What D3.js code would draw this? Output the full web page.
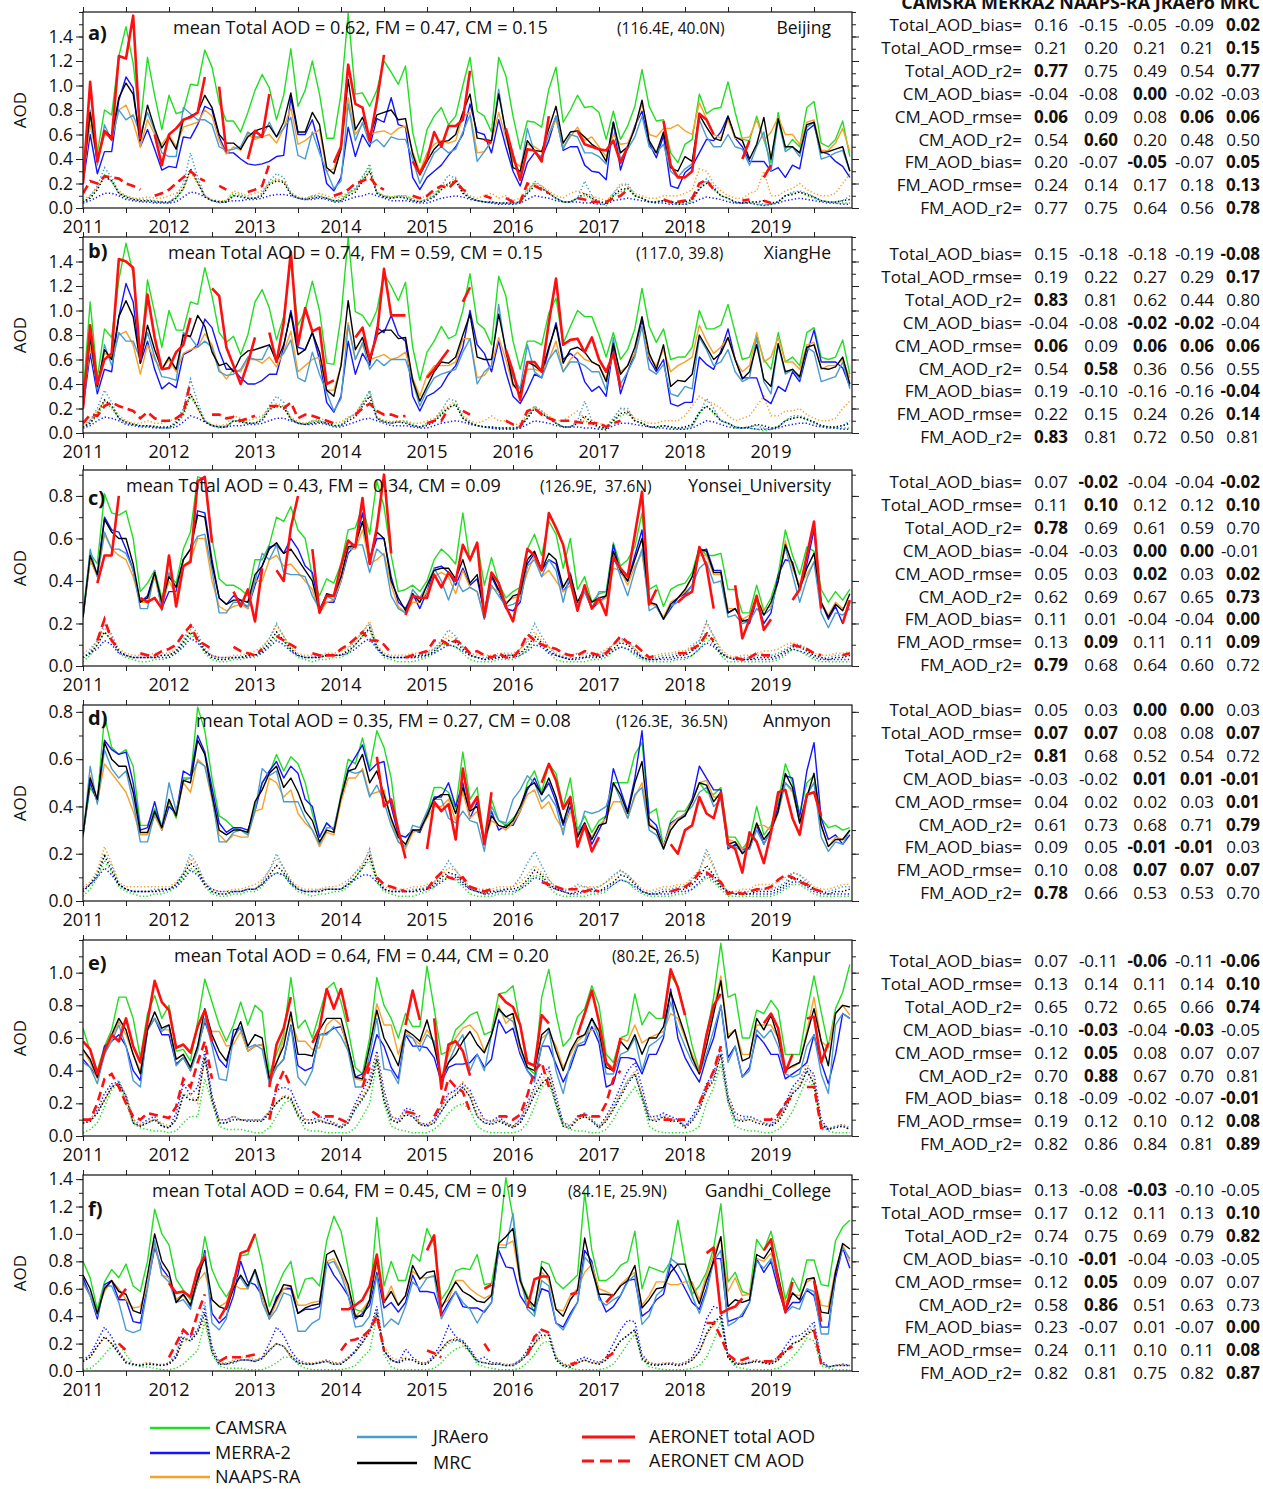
<!DOCTYPE html>
<html>
<head>
<meta charset="utf-8">
<script src="https://cdn.jsdelivr.net/npm/d3@7"></script>
<style>
  body { margin: 0; background: #fff; }
  text { font-family: "Open Sans", sans-serif; fill: #111; }
</style>
</head>
<body>
<script>
// monthly means Jan 2011 .. Dec 2019 (108 months), AOD at 550 nm
const _ = null

// ---- a) Beijing ----
const aTotCams = [
.2,.75,.45,.8,.76,1.24,1.48,1.18,.68,1.23,.92,.64,
.92,.77,.79,1.01,1.0,1.29,1.15,.86,.71,.71,.62,.78,
.96,1.09,.98,.72,.92,1.3,.83,.96,1.2,.93,.57,.57,
.93,1.59,.93,.94,.83,.96,1.2,1.11,1.01,1.16,.62,.37,
.64,.75,.82,.68,.75,1.0,1.23,.79,.75,.62,1.23,1.08,
.75,.48,.71,.7,.66,.97,1.15,.7,.8,.92,.82,.83,
.78,.56,.79,.56,.67,.83,1.13,.83,.71,.72,.45,.37,
.52,.56,.93,.77,.81,.82,1.03,.78,.56,.55,.75,.56,
.37,.78,.48,.56,.5,.82,.87,.53,.5,.56,.71,.42]
const aTotMerra = [
.2,.6,.28,.46,.46,.88,1.07,.98,.5,.64,.48,.31,
.34,.33,.58,.57,.68,.83,.8,.58,.45,.45,.4,.36,
.35,.36,.38,.42,.43,.9,.6,.6,.72,.5,.2,.14,
.25,.66,.42,.6,.5,.73,.7,.9,.68,.66,.25,.15,
.25,.3,.35,.43,.5,.6,.85,.62,.6,.45,.72,.5,
.3,.18,.37,.45,.41,.55,.75,.47,.5,.5,.35,.3,
.29,.23,.7,.31,.5,.67,.79,.53,.41,.59,.18,.16,
.29,.34,.45,.56,.55,.62,.75,.57,.5,.38,.38,.38,
.3,.33,.25,.35,.32,.63,.68,.46,.44,.38,.34,.25]
const aTotNaaps = [
.25,.68,.4,.6,.58,.8,.84,.7,.5,.72,.6,.52,
.6,.5,.66,.68,.7,.8,.75,.55,.44,.5,.47,.6,
.56,.58,.6,.53,.65,.82,.52,.55,.6,.64,.3,.32,
.5,.9,.6,.68,.6,.62,.63,.6,.65,.67,.46,.3,
.45,.52,.55,.53,.55,.75,.78,.45,.46,.54,.78,.57,
.38,.34,.52,.5,.46,.6,.72,.5,.58,.66,.55,.58,
.5,.42,.6,.52,.53,.65,.85,.6,.58,.65,.65,.68,
.63,.6,.86,.73,.6,.57,.72,.57,.57,.58,.72,.55,
.62,.74,.6,.6,.52,.7,.72,.47,.47,.53,.65,.46]
const aTotJra = [
.2,.8,.35,.68,.55,.8,.72,.76,.6,.78,.63,.45,
.42,.42,.82,.77,.72,.72,.68,.5,.47,.48,.5,.62,
.58,.58,.7,.58,.65,.74,.43,.4,.62,.45,.3,.16,
.22,.85,.55,.7,.52,.56,.5,.58,.56,.56,.4,.2,
.33,.45,.5,.45,.48,.62,.76,.38,.46,.55,.97,.6,
.4,.28,.65,.45,.42,.6,.75,.48,.6,.58,.45,.45,
.42,.36,.7,.4,.48,.58,.75,.5,.45,.52,.3,.25,
.32,.36,.72,.58,.5,.5,.6,.5,.48,.35,.5,.62,
.3,.72,.46,.5,.42,.66,.7,.4,.42,.45,.47,.3]
const aTotMrc = [
.25,.78,.38,.63,.58,.9,1.02,.93,.55,.84,.65,.49,
.58,.48,.72,.75,.78,.92,.82,.6,.53,.53,.48,.58,
.63,.65,.67,.58,.7,.94,.62,.62,.78,.68,.33,.28,
.48,1.05,.64,.74,.58,.76,.78,.8,.72,.73,.44,.27,
.38,.48,.54,.55,.6,.78,.93,.57,.56,.55,.93,.62,
.33,.3,.55,.47,.46,.65,.83,.53,.62,.63,.58,.52,
.48,.38,.7,.45,.5,.65,.88,.55,.45,.62,.33,.3,
.42,.38,.76,.66,.57,.55,.75,.58,.55,.4,.52,.74,
.4,.73,.5,.5,.45,.68,.7,.45,.46,.48,.5,.3]
const aCmCams = [
.05,.08,.15,.27,.22,.12,.1,.08,.07,.07,.06,.05,
.04,.08,.15,.3,.2,.1,.06,.05,.06,.12,.11,.08,
.08,.12,.2,.24,.22,.12,.08,.07,.1,.1,.08,.06,
.07,.12,.15,.26,.33,.13,.1,.09,.1,.1,.07,.05,
.08,.1,.17,.18,.22,.12,.08,.06,.05,.04,.04,.04,
.03,.04,.14,.2,.16,.12,.08,.05,.05,.08,.1,.08,
.04,.02,.1,.13,.16,.1,.08,.05,.05,.06,.04,.03,
.03,.05,.15,.22,.15,.1,.08,.04,.04,.04,.03,.02,
.03,.05,.1,.12,.13,.1,.08,.06,.05,.04,.04,.04]
const aCmMerra = [
.04,.06,.09,.12,.12,.1,.07,.06,.05,.05,.04,.04,
.04,.05,.09,.13,.12,.09,.06,.05,.05,.06,.06,.07,
.07,.08,.1,.11,.11,.1,.08,.07,.07,.08,.07,.05,
.05,.07,.09,.1,.12,.1,.08,.06,.06,.06,.05,.04,
.04,.06,.08,.09,.1,.09,.07,.06,.05,.04,.03,.03,
.03,.04,.07,.1,.09,.08,.06,.05,.05,.05,.04,.04,
.03,.03,.06,.07,.08,.07,.06,.05,.04,.04,.03,.03,
.03,.04,.07,.09,.08,.07,.05,.04,.04,.04,.03,.02,
.03,.04,.06,.07,.08,.07,.06,.05,.04,.04,.03,.03]
const aCmNaaps = [
.07,.1,.17,.25,.22,.14,.1,.08,.08,.09,.08,.08,
.1,.12,.16,.3,.2,.1,.07,.06,.06,.14,.12,.1,
.12,.14,.2,.23,.22,.13,.09,.08,.1,.12,.1,.08,
.09,.13,.15,.22,.3,.13,.1,.09,.1,.1,.08,.08,
.1,.12,.18,.2,.25,.14,.1,.08,.1,.12,.08,.1,
.06,.08,.15,.2,.18,.14,.1,.08,.12,.14,.12,.1,
.08,.06,.12,.2,.18,.12,.1,.08,.08,.1,.1,.1,
.12,.15,.32,.3,.2,.14,.1,.08,.08,.12,.14,.3,
.1,.1,.14,.16,.2,.15,.12,.1,.1,.12,.2,.28]
const aCmJra = [
.04,.1,.18,.33,.25,.12,.08,.07,.06,.06,.06,.04,
.04,.1,.2,.45,.25,.1,.06,.04,.05,.1,.1,.08,
.08,.12,.22,.28,.25,.12,.08,.07,.09,.1,.08,.05,
.06,.12,.16,.24,.36,.12,.09,.08,.09,.09,.06,.05,
.07,.1,.18,.27,.24,.13,.09,.06,.05,.05,.04,.04,
.04,.05,.12,.22,.18,.12,.08,.05,.05,.08,.22,.1,
.05,.04,.12,.18,.2,.1,.08,.05,.05,.06,.05,.04,
.04,.06,.16,.24,.18,.1,.08,.05,.04,.05,.05,.03,
.03,.05,.1,.13,.14,.12,.09,.06,.05,.05,.06,.1]
const aCmMrc = [
.05,.08,.15,.26,.22,.12,.09,.07,.06,.06,.05,.05,
.05,.08,.16,.32,.21,.09,.06,.05,.05,.1,.09,.08,
.08,.1,.19,.22,.21,.11,.08,.07,.08,.09,.08,.06,
.06,.1,.13,.22,.3,.12,.09,.08,.09,.08,.06,.05,
.06,.09,.15,.2,.22,.12,.08,.06,.05,.05,.04,.04,
.04,.05,.12,.18,.16,.12,.08,.05,.05,.08,.12,.08,
.05,.04,.1,.15,.16,.1,.08,.05,.05,.06,.05,.04,
.05,.07,.16,.2,.16,.1,.08,.05,.04,.05,.05,.06,
.04,.05,.1,.11,.13,.11,.09,.06,.05,.05,.06,.07]
const aAeroTot = [
.2,1.03,.38,.63,.56,1.24,1.22,1.57,.56,_,.6,.35,
.6,.65,.72,.74,.78,1.07,_,.99,.46,_,_,.4,
.63,.58,.93,_,_,_,_,_,_,_,_,.37,
.5,1.17,.85,.82,.55,.87,1.25,_,_,_,.38,.28,
.4,.62,.5,.67,.67,.72,1.12,_,.56,.53,_,.65,
.43,.23,.48,.47,.38,.75,_,_,_,.63,.52,.5,
.48,.47,.55,.37,.5,_,_,_,_,.71,.35,.25,
.25,.3,.77,.72,.6,_,_,_,.4,.55,_,.25,
.35,_,_,_,_,_,_,_,_,_,_,_]
const aAeroCm = [
.12,.22,.2,.26,.25,.24,.2,.18,.15,_,.1,.12,
.15,.2,.25,.3,.25,.22,_,.18,.15,_,_,.13,
.15,.18,.36,_,_,_,_,_,_,_,_,.1,
.12,.15,.2,.22,.25,.18,.15,_,_,_,.1,.08,
.1,.15,.18,.16,.22,.15,.12,_,.1,.08,_,.08,
.05,.05,.2,.18,.15,.12,_,_,_,.08,.07,.05,
.05,.05,.08,.1,.15,_,_,_,_,.07,.05,.05,
.06,.08,.2,.23,.15,_,_,_,.06,.07,_,.06,
.04,_,_,_,_,_,_,_,_,_,_,_]

// ---- b) XiangHe ----
const bTotCams = [
.3,1.07,.45,.85,.78,1.25,1.55,1.3,.6,1.25,.98,.7,
1.0,.84,.84,1.07,1.05,1.35,1.12,.82,.74,.79,.64,.8,
1.07,1.17,1.02,.76,.95,1.4,.88,1.0,1.24,1.0,.57,.56,
.95,1.6,.99,.96,.87,1.0,1.3,1.2,1.08,1.23,.7,.43,
.66,.75,.87,.77,.8,1.0,1.3,.9,.85,.72,1.28,1.12,
.75,.52,.75,.75,.72,.98,1.1,.73,.87,1.0,.95,.95,
.8,.62,.82,.6,.68,.85,1.18,.87,.74,.85,.6,.62,
.62,.7,1.0,.85,.85,.88,1.05,.82,.6,.62,.8,.6,
.52,.82,.58,.62,.55,.82,.86,.62,.6,.62,.76,.48]
const bTotMerra = [
.2,.65,.32,.52,.5,.95,1.22,1.07,.57,.75,.52,.36,
.41,.37,.64,.67,.72,.93,.86,.67,.52,.52,.45,.4,
.4,.43,.48,.48,.7,1.0,.7,.68,.82,.6,.25,.17,
.3,.75,.48,.65,.55,.86,.82,.96,.8,.75,.3,.18,
.3,.33,.38,.48,.55,.7,1.0,.72,.65,.5,.75,.5,
.3,.24,.35,.48,.45,.68,.9,.6,.65,.6,.42,.34,
.38,.3,.7,.32,.5,.65,.92,.6,.5,.6,.24,.22,
.25,.25,.62,.56,.52,.67,.85,.6,.45,.45,.45,.28,
.24,.38,.34,.5,.42,.65,.84,.58,.58,.58,.53,.38]
const bTotNaaps = [
.25,.7,.4,.65,.62,.8,.83,.72,.48,.72,.6,.52,
.6,.5,.65,.68,.7,.81,.72,.52,.44,.52,.5,.6,
.6,.57,.62,.54,.66,.83,.5,.55,.6,.62,.35,.35,
.55,.9,.6,.72,.6,.62,.64,.6,.62,.66,.45,.3,
.47,.55,.55,.55,.58,.77,.77,.45,.47,.55,.78,.6,
.38,.36,.52,.52,.5,.6,.75,.5,.6,.66,.6,.58,
.55,.44,.66,.5,.55,.65,.88,.62,.55,.68,.5,.55,
.58,.62,.88,.75,.65,.7,.78,.6,.5,.55,.82,.58,
.62,.78,.58,.58,.52,.72,.74,.52,.55,.55,.6,.45]
const bTotJra = [
.2,.78,.35,.72,.55,.82,.75,.75,.6,.82,.62,.46,
.45,.43,.82,.78,.7,.75,.7,.5,.47,.48,.52,.62,
.6,.6,.72,.6,.65,.76,.45,.42,.66,.48,.33,.18,
.28,.88,.6,.74,.52,.6,.55,.6,.6,.6,.42,.22,
.35,.45,.48,.5,.52,.66,.77,.4,.5,.55,1.05,.65,
.46,.36,.72,.5,.45,.6,.68,.5,.58,.58,.55,.5,
.5,.35,.78,.4,.5,.62,.87,.52,.48,.56,.32,.3,
.38,.36,.78,.68,.55,.58,.68,.5,.42,.45,.78,.42,
.32,.72,.48,.52,.44,.7,.66,.42,.44,.46,.58,.36]
const bTotMrc = [
.25,.78,.38,.68,.6,.95,1.08,.95,.57,.88,.68,.52,
.62,.52,.8,.79,.96,.87,.66,.55,.57,.5,.62,.67,
.68,.7,.72,.58,.72,.98,.64,.68,.82,.66,.35,.3,
.55,1.08,.68,.78,.58,.8,.84,.84,.77,.78,.43,.26,
.38,.5,.58,.57,.62,.8,.97,.62,.6,.6,.97,.68,
.4,.32,.58,.55,.5,.7,.88,.57,.68,.7,.66,.58,
.55,.42,.73,.48,.55,.7,.95,.65,.52,.72,.38,.43,
.42,.48,.8,.7,.6,.65,.78,.6,.44,.5,.72,.44,
.38,.73,.5,.52,.46,.7,.72,.53,.52,.54,.62,.4]
const bCmCams = [
.04,.08,.14,.26,.2,.12,.08,.07,.06,.06,.05,.04,
.04,.07,.14,.3,.2,.1,.06,.05,.06,.1,.1,.08,
.08,.12,.2,.22,.22,.12,.08,.07,.1,.1,.08,.06,
.07,.12,.15,.25,.34,.13,.1,.09,.1,.1,.07,.05,
.08,.1,.16,.2,.24,.12,.08,.06,.05,.04,.04,.04,
.03,.04,.14,.22,.16,.12,.08,.05,.05,.08,.1,.08,
.04,.02,.1,.14,.16,.1,.08,.05,.05,.06,.04,.03,
.03,.05,.16,.22,.16,.1,.08,.04,.04,.04,.03,.02,
.03,.05,.1,.12,.13,.11,.08,.06,.05,.04,.04,.04]
const bCmMerra = [
.04,.06,.1,.13,.12,.1,.07,.06,.05,.05,.04,.04,
.04,.05,.09,.14,.12,.09,.06,.05,.05,.06,.06,.07,
.07,.08,.1,.12,.12,.1,.08,.07,.07,.08,.07,.05,
.05,.07,.09,.11,.12,.1,.08,.06,.06,.06,.05,.04,
.04,.06,.08,.09,.1,.09,.07,.06,.05,.04,.03,.03,
.03,.04,.07,.1,.09,.08,.06,.05,.05,.05,.04,.04,
.03,.03,.06,.08,.08,.07,.06,.05,.04,.04,.03,.03,
.03,.04,.07,.1,.09,.07,.05,.04,.04,.04,.03,.03,
.03,.04,.06,.07,.08,.08,.06,.05,.04,.04,.03,.03]
const bCmNaaps = [
.07,.1,.18,.26,.22,.14,.1,.08,.08,.1,.08,.08,
.1,.12,.17,.32,.2,.1,.07,.06,.07,.14,.12,.1,
.12,.14,.2,.24,.22,.13,.09,.08,.1,.12,.1,.08,
.09,.13,.15,.24,.3,.13,.1,.09,.1,.1,.08,.08,
.1,.12,.18,.22,.26,.14,.1,.08,.1,.14,.1,.1,
.06,.08,.15,.2,.18,.14,.1,.1,.14,.18,.12,.1,
.08,.06,.12,.2,.18,.12,.1,.08,.08,.1,.1,.1,
.14,.22,.3,.26,.24,.2,.14,.1,.12,.14,.22,.3,
.14,.14,.18,.18,.2,.15,.12,.1,.1,.12,.2,.26]
const bCmJra = [
.04,.1,.2,.35,.25,.12,.08,.07,.06,.06,.06,.04,
.04,.1,.2,.44,.25,.1,.06,.04,.05,.1,.1,.08,
.08,.12,.22,.3,.25,.12,.08,.07,.09,.1,.08,.05,
.06,.12,.16,.24,.35,.12,.09,.08,.09,.09,.06,.05,
.07,.1,.18,.28,.26,.13,.09,.06,.05,.05,.04,.04,
.04,.05,.12,.22,.18,.12,.08,.05,.05,.1,.26,.1,
.05,.04,.12,.2,.2,.1,.08,.05,.05,.06,.05,.04,
.04,.06,.16,.28,.2,.1,.08,.05,.04,.05,.06,.04,
.03,.05,.1,.14,.14,.12,.09,.06,.05,.05,.06,.1]
const bCmMrc = [
.05,.08,.16,.27,.22,.12,.09,.07,.06,.06,.05,.05,
.05,.08,.16,.32,.21,.09,.06,.05,.05,.1,.09,.08,
.08,.1,.19,.22,.21,.11,.08,.07,.08,.09,.08,.06,
.06,.1,.13,.22,.3,.12,.09,.08,.09,.08,.06,.05,
.06,.09,.15,.21,.23,.12,.08,.06,.05,.05,.04,.04,
.04,.05,.12,.2,.16,.12,.08,.05,.05,.08,.14,.08,
.05,.04,.1,.16,.17,.1,.08,.05,.05,.06,.05,.04,
.05,.07,.17,.22,.17,.1,.08,.05,.04,.05,.07,.06,
.04,.05,.1,.12,.13,.11,.09,.06,.05,.05,.06,.08]
const bAeroTot = [
.2,.88,.4,.6,.65,1.42,1.4,1.35,.6,1.13,.78,.52,
.53,.66,.72,.94,_,_,1.18,1.12,.7,.55,.4,.57,
.78,_,.82,.58,.9,1.48,.72,1.02,.83,.86,.4,.43,
_,_,.78,.86,.6,.8,1.34,.96,.96,.96,_,_,
.45,.52,.6,.68,_,1.07,1.19,_,_,_,_,.68,
.5,.27,.58,.58,.5,.9,1.26,.72,.76,.77,.66,.78,
.6,.5,.65,.37,_,_,_,_,_,_,_,_,
_,_,_,_,_,_,_,_,_,_,_,_,
_,_,_,_,_,_,_,_,_,_,_,_]
const bAeroCm = [
.08,.15,.14,.22,.25,.22,.2,.18,.12,.17,.12,.1,
.1,.12,.16,.42,_,_,.15,.15,.12,.13,.1,.12,
.14,_,.22,.22,.2,.25,.12,.15,.14,.12,.1,.08,
_,_,.15,.2,.24,.18,.15,.15,.13,.14,_,_,
.08,.1,.1,.2,_,.18,.15,_,_,_,_,.1,
.07,.05,.18,.2,.15,.12,.1,.1,.1,.09,.08,.08,
.08,.05,.08,.1,_,_,_,_,_,_,_,_,
_,_,_,_,_,_,_,_,_,_,_,_,
_,_,_,_,_,_,_,_,_,_,_,_]

// ---- c) Yonsei_University ----
const cTotCams = [
.25,.53,.48,.81,.72,.71,.73,.6,.35,.39,.45,.32,
.43,.39,.55,.63,.89,.88,.6,.41,.38,.38,.36,.33,
.5,.5,.57,.7,.68,.75,.64,.6,.42,.33,.41,.39,
.48,.64,.65,.75,.62,.87,.75,.52,.35,.36,.38,.35,
.4,.5,.55,.52,.48,.72,.49,.58,.38,.51,.39,.32,
.35,.37,.55,.62,.52,.68,.62,.46,.6,.36,.42,.3,
.34,.35,.58,.47,.5,.56,.72,.36,.38,.28,.36,.38,
.39,.44,.56,.52,.52,.53,.36,.36,.25,.25,.38,.26,
.32,.43,.64,.52,.43,.56,.54,.36,.3,.35,.31,.36]
const cTotMerra = [
.23,.5,.43,.7,.64,.63,.55,.45,.3,.33,.44,.27,
.35,.35,.5,.55,.73,.72,.5,.32,.29,.33,.31,.27,
.38,.47,.56,.57,.53,.6,.55,.47,.44,.27,.3,.3,
.4,.53,.57,.72,.5,.6,.6,.42,.3,.27,.34,.27,
.35,.46,.47,.44,.38,.46,.38,.41,.25,.42,.35,.27,
.26,.3,.48,.53,.45,.5,.48,.35,.4,.28,.35,.27,
.3,.33,.57,.44,.4,.52,.64,.3,.28,.22,.27,.32,
.34,.38,.54,.55,.45,.45,.25,.27,.22,.2,.31,.2,
.25,.43,.5,.49,.36,.48,.64,.3,.22,.28,.2,.3]
const cTotNaaps = [
.23,.5,.42,.62,.55,.52,.5,.42,.3,.3,.42,.28,
.4,.33,.47,.5,.6,.6,.4,.28,.26,.28,.29,.27,
.4,.4,.5,.52,.47,.48,.44,.4,.36,.25,.3,.31,
.4,.55,.55,.64,.48,.5,.53,.38,.28,.25,.3,.3,
.35,.42,.44,.42,.34,.45,.37,.35,.24,.37,.35,.3,
.32,.33,.44,.52,.42,.45,.4,.35,.38,.28,.35,.28,
.3,.32,.46,.45,.38,.47,.53,.3,.28,.23,.3,.32,
.35,.42,.52,.52,.43,.43,.27,.27,.22,.24,.3,.27,
.28,.4,.59,.46,.38,.43,.49,.3,.24,.3,.27,.31]
const cTotJra = [
.22,.55,.42,.63,.55,.55,.53,.45,.27,.27,.45,.26,
.44,.37,.5,.55,.61,.62,.45,.25,.25,.3,.3,.28,
.4,.53,.5,.57,.44,.43,.43,.42,.33,.27,.33,.31,
.42,.55,.57,.57,.44,.55,.52,.33,.27,.25,.36,.32,
.38,.46,.4,.31,.41,.35,.37,.35,.22,.38,.33,.28,
.29,.31,.47,.5,.42,.5,.45,.3,.44,.28,.35,.27,
.35,.35,.52,.42,.33,.45,.55,.26,.28,.22,.28,.3,
.33,.38,.46,.49,.39,.4,.23,.24,.2,.21,.27,.24,
.27,.4,.56,.43,.3,.41,.49,.25,.18,.25,.24,.27]
const cTotMrc = [
.23,.52,.43,.69,.63,.6,.6,.48,.3,.32,.44,.3,
.42,.37,.5,.55,.71,.7,.48,.32,.29,.31,.31,.3,
.43,.47,.55,.58,.53,.55,.5,.45,.4,.26,.34,.33,
.42,.56,.57,.68,.5,.63,.6,.4,.32,.26,.34,.3,
.38,.45,.46,.46,.41,.5,.39,.43,.25,.43,.36,.29,
.33,.34,.5,.54,.45,.53,.5,.37,.43,.3,.37,.3,
.32,.33,.54,.45,.4,.5,.6,.3,.29,.22,.29,.32,
.36,.42,.55,.54,.44,.44,.25,.27,.21,.22,.32,.24,
.3,.4,.57,.48,.36,.46,.53,.3,.23,.29,.26,.34]
const cCmCams = [
.02,.05,.1,.16,.12,.06,.04,.03,.02,.02,.03,.03,
.04,.06,.1,.15,.12,.06,.03,.02,.02,.03,.03,.04,
.04,.06,.1,.14,.12,.07,.04,.03,.02,.03,.03,.04,
.04,.06,.1,.14,.17,.08,.04,.03,.02,.02,.02,.03,
.04,.06,.1,.1,.09,.06,.03,.02,.02,.02,.03,.03,
.03,.05,.08,.12,.1,.06,.03,.02,.02,.02,.02,.03,
.03,.04,.07,.09,.08,.05,.03,.02,.02,.02,.02,.03,
.03,.05,.08,.13,.1,.05,.02,.02,.02,.02,.02,.02,
.02,.03,.05,.08,.07,.05,.03,.02,.02,.02,.02,.02]
const cCmMerra = [
.04,.06,.08,.12,.1,.06,.05,.04,.04,.04,.04,.04,
.04,.06,.09,.13,.11,.07,.05,.04,.04,.04,.04,.04,
.05,.06,.09,.12,.1,.07,.05,.04,.04,.04,.05,.05,
.05,.06,.08,.11,.13,.08,.05,.04,.04,.04,.04,.04,
.05,.06,.08,.1,.09,.07,.05,.04,.03,.03,.04,.04,
.04,.05,.07,.1,.09,.06,.05,.04,.03,.03,.04,.04,
.04,.05,.07,.09,.08,.06,.04,.03,.03,.03,.03,.04,
.04,.05,.08,.11,.09,.06,.04,.03,.03,.03,.03,.03,
.03,.04,.06,.08,.07,.06,.04,.03,.03,.03,.03,.03]
const cCmNaaps = [
.06,.08,.12,.18,.14,.08,.06,.05,.05,.05,.06,.06,
.06,.08,.12,.17,.14,.08,.05,.04,.04,.05,.05,.06,
.07,.09,.13,.19,.14,.09,.06,.05,.05,.05,.06,.06,
.07,.09,.12,.16,.21,.1,.06,.05,.05,.05,.06,.06,
.07,.08,.11,.14,.13,.09,.06,.05,.05,.05,.06,.06,
.06,.08,.11,.16,.12,.09,.06,.05,.05,.06,.06,.06,
.06,.08,.1,.12,.11,.08,.05,.04,.05,.06,.06,.07,
.07,.1,.12,.2,.14,.08,.05,.04,.05,.05,.06,.07,
.07,.08,.1,.11,.1,.08,.06,.05,.05,.06,.06,.07]
const cCmJra = [
.04,.07,.12,.2,.15,.07,.05,.04,.04,.04,.05,.05,
.05,.07,.12,.2,.15,.08,.04,.03,.03,.04,.04,.05,
.05,.08,.13,.2,.14,.08,.05,.04,.04,.05,.05,.05,
.05,.08,.12,.16,.2,.09,.05,.04,.04,.04,.05,.05,
.06,.08,.12,.17,.14,.09,.05,.04,.04,.04,.05,.05,
.05,.08,.12,.2,.14,.09,.05,.04,.04,.06,.05,.05,
.05,.07,.1,.13,.12,.08,.04,.03,.04,.05,.05,.06,
.06,.09,.12,.21,.14,.07,.04,.03,.04,.04,.05,.05,
.05,.06,.08,.1,.1,.08,.05,.04,.04,.05,.05,.06]
const cCmMrc = [
.04,.06,.1,.16,.12,.07,.05,.04,.04,.04,.04,.05,
.05,.07,.11,.16,.13,.07,.04,.03,.03,.04,.04,.05,
.05,.07,.11,.16,.12,.08,.05,.04,.04,.04,.05,.05,
.05,.07,.1,.14,.18,.09,.05,.04,.04,.04,.04,.05,
.05,.07,.1,.12,.11,.08,.05,.04,.03,.04,.04,.05,
.05,.06,.09,.14,.11,.07,.05,.04,.03,.04,.04,.05,
.04,.06,.08,.11,.1,.07,.04,.03,.03,.04,.04,.05,
.05,.07,.1,.16,.11,.06,.04,.03,.03,.03,.04,.04,
.04,.05,.07,.09,.09,.07,.05,.04,.03,.04,.04,.05]
const cAeroTot = [
_,_,.39,.52,.52,.8,_,_,.32,.3,.32,.27,
.52,.28,.47,.49,.87,.89,.58,_,_,.35,.28,.36,
.21,.46,_,.45,.4,.65,.8,_,.55,.25,.33,.33,
.47,.59,.56,.79,.48,.65,.9,.53,_,.24,.33,.32,
.32,.43,.37,.44,.4,.57,.5,.58,.23,.44,.39,.28,
.21,.37,.55,.52,.45,.72,.65,.57,.4,.26,.38,.27,
.32,.24,.51,.46,.42,.62,.82,.29,.36,_,_,.3,
.33,.35,.56,.47,.27,_,_,.38,.13,.22,.33,.17,
.22,_,_,.31,.36,.52,.68,.27,_,_,.2,.31]
const cAeroCm = [
_,_,.12,.22,.12,.08,_,_,.06,.05,.05,.07,
.08,.1,.15,.19,.12,.1,.08,_,_,.09,.07,.06,
.05,.08,_,.14,.12,.1,.08,_,.06,.05,.05,.05,
.08,.1,.13,.16,.12,.12,.1,.06,_,.04,.05,.06,
.07,.12,.12,.1,.12,.1,.06,.07,.05,.04,.06,.04,
.04,.08,.15,.12,.1,.09,.08,.06,.05,.05,.07,.06,
.05,.06,.1,.14,.11,.1,.07,.04,.05,_,_,.06,
.06,.08,.1,.15,.12,_,_,.04,.03,.04,.06,.05,
.05,_,_,.1,.09,.08,.06,.05,_,_,.05,.06]

// ---- d) Anmyon ----
const dTotCams = [
.28,.48,.43,.78,.65,.62,.64,.57,.32,.32,.39,.32,
.42,.35,.52,.52,.82,.72,.52,.36,.34,.31,.3,.29,
.4,.5,.54,.62,.55,.61,.58,.5,.37,.27,.33,.3,
.45,.6,.58,.69,.56,.72,.65,.52,.28,.27,.3,.29,
.37,.48,.48,.46,.39,.63,.43,.48,.24,.43,.34,.32,
.35,.38,.5,.55,.46,.58,.54,.4,.52,.3,.36,.29,
.34,.36,.5,.5,.5,.62,.67,.37,.39,.23,.34,.38,
.38,.43,.5,.46,.45,.48,.27,.27,.22,.26,.4,.28,
.32,.42,.58,.5,.37,.5,.53,.35,.31,.32,.3,.31]
const dTotMerra = [
.28,.5,.42,.68,.64,.62,.63,.5,.3,.31,.42,.3,
.4,.37,.55,.53,.7,.63,.48,.33,.29,.31,.31,.3,
.38,.5,.55,.59,.52,.57,.54,.43,.4,.27,.33,.3,
.43,.56,.61,.66,.55,.58,.59,.4,.28,.27,.3,.29,
.36,.44,.44,.5,.4,.5,.35,.42,.25,.38,.3,.32,
.32,.38,.47,.52,.45,.5,.42,.32,.4,.28,.33,.24,
.3,.36,.56,.47,.38,.52,.72,.35,.32,.23,.33,.35,
.36,.43,.57,.52,.47,.47,.22,.24,.22,.22,.32,.24,
.3,.4,.53,.52,.35,.55,.67,.35,.26,.28,.24,.28]
const dTotNaaps = [
.27,.53,.42,.58,.54,.5,.46,.38,.28,.28,.36,.3,
.43,.36,.5,.46,.6,.57,.43,.28,.25,.28,.27,.27,
.38,.39,.52,.5,.44,.47,.37,.33,.3,.23,.29,.28,
.42,.52,.52,.56,.45,.46,.47,.34,.25,.22,.29,.3,
.35,.4,.4,.43,.34,.46,.35,.38,.25,.34,.32,.3,
.33,.38,.45,.47,.39,.42,.35,.3,.38,.27,.32,.27,
.32,.35,.42,.42,.35,.44,.5,.33,.3,.23,.32,.35,
.37,.42,.5,.51,.44,.44,.26,.25,.22,.24,.32,.32,
.3,.37,.5,.46,.34,.45,.5,.32,.23,.27,.26,.3]
const dTotJra = [
.27,.57,.41,.64,.56,.52,.55,.42,.25,.25,.37,.31,
.5,.38,.51,.52,.59,.57,.44,.25,.25,.29,.3,.28,
.38,.56,.53,.55,.42,.42,.42,.35,.3,.24,.31,.31,
.44,.55,.54,.55,.44,.49,.42,.32,.25,.23,.32,.31,
.38,.43,.43,.35,.33,.38,.34,.33,.21,.4,.34,.33,
.43,.47,.53,.5,.42,.45,.4,.28,.44,.27,.38,.37,
.38,.4,.5,.43,.35,.45,.48,.3,.28,.22,.3,.34,
.37,.4,.46,.48,.4,.43,.23,.23,.21,.22,.3,.24,
.3,.38,.5,.47,.33,.45,.5,.27,.21,.25,.24,.3]
const dTotMrc = [
.28,.52,.43,.67,.6,.57,.57,.46,.29,.29,.38,.31,
.43,.36,.51,.5,.68,.62,.45,.3,.28,.3,.3,.29,
.42,.47,.54,.57,.48,.52,.46,.38,.34,.25,.3,.29,
.44,.55,.56,.62,.5,.55,.45,.35,.27,.24,.3,.3,
.36,.43,.45,.45,.37,.48,.38,.4,.25,.36,.32,.31,
.34,.4,.48,.5,.45,.52,.44,.33,.43,.27,.33,.26,
.32,.33,.5,.45,.37,.5,.59,.32,.3,.22,.3,.34,
.36,.42,.5,.49,.42,.46,.24,.25,.2,.23,.33,.26,
.3,.38,.54,.48,.33,.44,.54,.32,.23,.26,.26,.3]
const dCmCams = [
.02,.05,.1,.17,.12,.06,.04,.03,.02,.02,.03,.03,
.04,.06,.1,.14,.12,.06,.03,.02,.02,.03,.03,.04,
.04,.06,.1,.12,.11,.07,.04,.03,.02,.03,.03,.04,
.04,.06,.1,.14,.17,.08,.04,.03,.02,.02,.02,.03,
.04,.06,.09,.1,.09,.06,.03,.02,.02,.02,.03,.03,
.03,.05,.08,.11,.1,.06,.03,.02,.02,.02,.02,.03,
.03,.04,.07,.09,.08,.05,.03,.02,.02,.02,.02,.03,
.03,.05,.07,.1,.08,.05,.02,.02,.02,.02,.02,.02,
.02,.03,.05,.07,.07,.05,.03,.02,.02,.02,.02,.02]
const dCmMerra = [
.05,.07,.1,.14,.11,.07,.05,.04,.04,.04,.04,.04,
.05,.06,.09,.13,.11,.07,.05,.04,.04,.04,.04,.05,
.05,.07,.1,.12,.11,.07,.05,.04,.04,.04,.05,.05,
.05,.07,.09,.11,.11,.08,.05,.04,.04,.04,.04,.04,
.05,.06,.08,.1,.1,.07,.05,.04,.03,.03,.04,.04,
.04,.05,.07,.1,.09,.06,.05,.04,.03,.03,.04,.04,
.04,.05,.07,.09,.08,.06,.04,.03,.03,.03,.03,.04,
.04,.05,.08,.11,.09,.06,.04,.03,.03,.03,.03,.03,
.03,.04,.06,.08,.08,.06,.04,.03,.03,.03,.03,.03]
const dCmNaaps = [
.06,.08,.13,.23,.16,.08,.06,.06,.06,.06,.06,.06,
.06,.08,.12,.18,.14,.08,.05,.04,.04,.05,.05,.06,
.07,.09,.13,.18,.14,.09,.06,.05,.05,.05,.06,.06,
.07,.09,.12,.16,.21,.1,.06,.05,.05,.05,.06,.06,
.07,.08,.11,.14,.13,.09,.06,.05,.05,.05,.06,.06,
.06,.08,.11,.15,.12,.09,.06,.05,.05,.06,.06,.06,
.06,.08,.1,.13,.11,.08,.05,.04,.05,.06,.06,.07,
.07,.1,.13,.2,.14,.08,.04,.04,.05,.05,.07,.07,
.07,.08,.1,.12,.11,.09,.06,.05,.05,.06,.07,.07]
const dCmJra = [
.04,.07,.12,.2,.15,.07,.05,.04,.04,.04,.05,.05,
.05,.07,.12,.2,.15,.08,.04,.03,.03,.04,.04,.05,
.05,.08,.13,.2,.14,.08,.05,.04,.04,.05,.05,.05,
.05,.08,.12,.15,.22,.09,.05,.04,.04,.04,.05,.05,
.06,.08,.12,.17,.13,.09,.05,.04,.04,.04,.05,.05,
.06,.1,.16,.21,.15,.09,.05,.04,.05,.07,.06,.05,
.06,.08,.11,.13,.11,.08,.04,.03,.04,.05,.05,.06,
.06,.09,.13,.22,.15,.07,.04,.03,.04,.04,.05,.05,
.05,.06,.08,.12,.11,.08,.05,.04,.04,.05,.06,.06]
const dCmMrc = [
.04,.07,.11,.19,.13,.07,.05,.04,.04,.04,.04,.05,
.05,.07,.11,.16,.13,.07,.04,.03,.03,.04,.04,.05,
.05,.07,.11,.15,.12,.08,.05,.04,.04,.04,.05,.05,
.05,.07,.1,.14,.19,.09,.05,.04,.04,.04,.04,.05,
.05,.07,.1,.12,.11,.08,.05,.04,.03,.04,.04,.05,
.05,.06,.09,.13,.11,.07,.05,.04,.03,.04,.04,.05,
.04,.06,.08,.11,.1,.07,.04,.03,.03,.04,.04,.05,
.05,.07,.1,.15,.11,.06,.04,.03,.03,.03,.04,.04,
.04,.05,.07,.1,.09,.07,.05,.04,.03,.04,.04,.05]
const dAeroTot = [
_,_,_,_,_,_,_,_,_,_,_,_,
_,_,_,_,_,_,_,_,_,_,_,_,
_,_,_,_,_,_,_,_,_,_,_,_,
_,_,_,_,_,.61,.4,.43,.3,.18,_,_,
.22,.42,.38,.41,.26,.56,.39,.44,.24,.46,_,_,
_,_,_,_,.5,.58,.51,.39,.44,.23,.32,.21,
.27,_,_,_,_,_,_,_,_,_,.24,.2,
.3,.32,.44,.37,.35,.46,.24,.22,.12,.29,.25,.16,
.29,.46,.47,.35,.28,.45,.46,.36,_,_,_,_]
const dAeroCm = [
_,_,_,_,_,_,_,_,_,_,_,_,
_,_,_,_,_,_,_,_,_,_,_,_,
_,_,_,_,_,_,_,_,_,_,_,_,
_,_,_,_,_,.1,.07,.06,.05,.04,_,_,
.05,.09,.12,.1,.09,.1,.06,.05,.04,.05,_,_,
_,_,_,_,.08,.07,.06,.05,.05,.05,.04,.05,
.04,_,_,_,_,_,_,_,_,_,.04,.05,
.06,.08,.12,.12,.1,.08,.03,.04,.03,.04,.05,.05,
.06,.09,.11,.1,.08,.07,.05,.04,_,_,_,_]

// ---- e) Kanpur ----
const eTotCams = [
.66,.52,.4,.55,.65,.85,.85,.72,.48,.75,.86,.72,
.8,.52,.53,.46,.7,.96,.82,.68,.58,.68,.82,.68,
.8,.76,.38,.5,.62,.97,.66,.71,.6,.75,.9,.94,
.82,.65,.42,.38,.6,.97,.8,.72,.6,.75,.67,.67,
1.04,.78,.5,.52,.65,.69,.74,.76,.62,.64,.87,.88,
.92,.68,.42,.38,.85,1.02,.75,.55,.6,.73,.78,.92,
.8,.5,.45,.6,.62,.87,.68,.76,.72,.72,.98,.92,
.75,.55,.4,.62,.85,1.18,.85,.87,.6,.6,.77,.75,
.83,.77,.5,.5,.5,.76,.98,.76,.55,.78,.88,1.05]
const eTotMerra = [
.47,.42,.36,.55,.58,.62,.55,.4,.34,.65,.72,.62,
.62,.44,.48,.4,.55,.7,.58,.47,.42,.65,.66,.52,
.55,.56,.35,.42,.47,.68,.43,.4,.42,.62,.63,.66,
.67,.55,.36,.38,.45,.62,.55,.42,.35,.62,.55,.55,
.54,.48,.33,.42,.44,.44,.45,.5,.42,.47,.71,.63,
.66,.5,.4,.35,.55,.55,.44,.33,.42,.55,.56,.67,
.57,.3,.32,.48,.48,.47,.38,.5,.5,.6,.9,.6,
.48,.4,.33,.48,.6,.8,.48,.55,.36,.42,.62,.57,
.5,.5,.35,.38,.41,.45,.62,.45,.32,.5,.75,.72]
const eTotNaaps = [
.53,.45,.35,.5,.6,.7,.62,.5,.4,.67,.72,.65,
.65,.47,.5,.4,.55,.72,.64,.64,.55,.56,.64,.52,
.55,.56,.33,.44,.6,.72,.58,.58,.53,.54,.68,.72,
.68,.52,.35,.34,.55,.81,.68,.68,.5,.64,.6,.56,
.65,.58,.36,.5,.6,.66,.68,.63,.52,.62,.8,.69,
.73,.52,.45,.43,.6,.63,.55,.42,.5,.58,.62,.65,
.66,.45,.42,.6,.58,.68,.57,.6,.62,.64,.75,.72,
.6,.5,.4,.6,.78,.98,.62,.65,.5,.5,.68,.68,
.68,.6,.42,.42,.45,.64,.85,.58,.54,.75,.8,.74]
const eTotJra = [
.45,.42,.32,.5,.58,.68,.55,.34,.3,.65,.72,.64,
.68,.43,.48,.4,.52,.72,.55,.35,.34,.6,.67,.54,
.56,.53,.32,.42,.47,.67,.36,.31,.4,.62,.62,.67,
.61,.52,.3,.3,.5,.72,.41,.4,.32,.62,.6,.52,
.62,.58,.32,.45,.55,.62,.4,.5,.4,.62,.77,.73,
.7,.55,.4,.33,.55,.65,.4,.26,.45,.56,.58,.72,
.6,.38,.38,.5,.52,.6,.4,.55,.58,.62,.82,.66,
.55,.45,.38,.5,.65,.8,.45,.55,.36,.4,.65,.6,
.65,.55,.38,.36,.38,.55,.62,.38,.26,.68,.75,.72]
const eTotMrc = [
.53,.47,.36,.52,.62,.72,.65,.5,.38,.65,.76,.66,
.68,.47,.5,.42,.55,.78,.62,.52,.46,.6,.7,.55,
.62,.6,.35,.45,.55,.76,.5,.5,.49,.65,.72,.72,
.72,.55,.36,.35,.55,.77,.6,.52,.43,.65,.62,.58,
.71,.55,.35,.45,.5,.58,.64,.56,.51,.62,.78,.73,
.75,.55,.42,.4,.62,.66,.52,.4,.52,.6,.62,.72,
.64,.42,.4,.58,.53,.62,.5,.6,.6,.67,.88,.75,
.62,.48,.38,.55,.75,.95,.6,.65,.46,.48,.72,.65,
.74,.6,.4,.43,.45,.62,.78,.58,.43,.75,.8,.79]
const eCmCams = [
.02,.04,.08,.18,.28,.33,.2,.08,.05,.04,.03,.03,
.02,.03,.08,.12,.12,.35,.2,.06,.04,.04,.04,.03,
.02,.02,.05,.12,.2,.22,.12,.04,.03,.03,.02,.02,
.02,.02,.05,.12,.2,.45,.2,.06,.04,.03,.02,.02,
.02,.04,.08,.14,.18,.2,.16,.06,.03,.02,.02,.02,
.02,.03,.08,.18,.3,.33,.18,.06,.04,.03,.03,.02,
.02,.04,.1,.18,.24,.3,.22,.06,.03,.02,.02,.02,
.02,.03,.06,.2,.3,.44,.2,.06,.04,.03,.03,.02,
.02,.04,.08,.15,.25,.35,.3,.06,.03,.02,.02,.02]
const eCmMerra = [
.1,.1,.16,.26,.32,.33,.25,.1,.07,.1,.12,.06,
.05,.14,.32,.25,.3,.52,.25,.1,.1,.12,.1,.1,
.1,.1,.15,.28,.3,.28,.18,.1,.1,.12,.1,.08,
.06,.1,.2,.28,.35,.52,.28,.12,.1,.17,.16,.08,
.07,.1,.18,.26,.28,.32,.28,.18,.1,.09,.12,.08,
.06,.1,.2,.3,.38,.42,.25,.08,.06,.12,.14,.1,
.06,.12,.2,.3,.4,.45,.3,.12,.12,.14,.12,.1,
.06,.12,.2,.32,.38,.55,.25,.14,.12,.12,.1,.08,
.07,.12,.2,.3,.35,.42,.38,.1,.04,.06,.07,.05]
const eCmNaaps = [
.1,.1,.15,.22,.3,.32,.25,.1,.07,.09,.1,.08,
.06,.1,.25,.25,.2,.48,.22,.1,.1,.12,.1,.1,
.1,.1,.15,.2,.25,.24,.14,.1,.1,.1,.08,.08,
.06,.1,.18,.25,.32,.5,.25,.12,.1,.15,.14,.08,
.07,.1,.18,.25,.28,.33,.26,.14,.1,.09,.1,.08,
.06,.1,.18,.28,.34,.4,.22,.08,.07,.1,.12,.1,
.06,.1,.18,.26,.34,.4,.26,.12,.1,.12,.1,.1,
.06,.1,.18,.28,.36,.52,.24,.12,.1,.1,.1,.08,
.07,.1,.18,.28,.32,.45,.34,.08,.05,.06,.07,.05]
const eCmJra = [
.08,.09,.14,.22,.3,.34,.24,.08,.06,.08,.1,.07,
.05,.1,.26,.22,.22,.5,.22,.08,.08,.12,.1,.1,
.1,.1,.14,.2,.24,.22,.12,.08,.08,.1,.08,.07,
.05,.08,.16,.22,.3,.48,.22,.1,.08,.14,.12,.07,
.06,.08,.15,.22,.26,.3,.24,.12,.08,.08,.1,.07,
.05,.08,.16,.26,.32,.36,.2,.07,.06,.12,.14,.1,
.05,.1,.17,.26,.34,.38,.24,.1,.1,.14,.1,.1,
.06,.1,.18,.3,.36,.5,.22,.1,.1,.12,.1,.08,
.06,.1,.18,.26,.3,.4,.32,.07,.04,.06,.06,.04]
const eCmMrc = [
.08,.09,.14,.22,.3,.32,.24,.08,.06,.08,.1,.06,
.05,.1,.25,.22,.22,.48,.22,.08,.08,.1,.1,.09,
.09,.09,.14,.2,.24,.23,.13,.08,.08,.09,.08,.07,
.05,.08,.17,.23,.3,.47,.22,.1,.08,.13,.12,.07,
.06,.08,.15,.22,.25,.3,.24,.12,.08,.07,.09,.07,
.05,.08,.16,.25,.32,.36,.2,.06,.05,.1,.12,.09,
.05,.09,.16,.24,.32,.38,.24,.1,.09,.12,.09,.09,
.05,.09,.16,.28,.34,.5,.22,.1,.09,.1,.08,.07,
.06,.09,.16,.26,.3,.4,.32,.07,.04,.05,.06,.04]
const eAeroTot = [
.58,.53,.38,.52,.62,.58,.72,.55,.45,.7,.95,.82,
.77,.54,.56,.51,.67,.77,.58,_,_,_,_,_,
_,_,.3,.56,.66,.85,_,_,.57,.66,.9,.78,
.9,.7,_,.36,.45,_,_,_,_,.68,.89,.71,
_,.72,.29,.56,.58,.52,.37,_,_,_,.87,.82,
.79,.68,.45,.43,.74,.69,_,_,_,.62,.75,.89,
.7,.45,.4,.6,_,_,_,_,_,.72,1.02,.91,
.74,_,.39,.62,.8,.87,_,_,_,_,_,.69,
.75,.66,.39,.5,_,.72,.73,.45,.57,_,_,_]
const eAeroCm = [
.1,.1,.2,.35,.38,.3,.2,.12,.1,.14,.13,.12,
.11,.18,.35,.3,.45,.58,.35,_,_,_,_,_,
_,_,.1,.3,.4,.3,_,_,.15,.12,.12,.12,
.1,.08,_,.3,.42,_,_,_,_,.15,.14,.12,
_,.12,.2,.35,.3,.27,.15,_,_,_,.12,.12,
.1,.13,.25,.4,.45,.3,_,_,_,.12,.13,.12,
.12,.2,.35,.4,_,_,_,_,_,.1,.1,.1,
.1,_,.2,.3,.4,.55,_,_,_,_,_,.1,
.1,.13,.2,.25,_,.3,.3,.05,.04,_,_,_]

// ---- f) Gandhi_College ----
const fTotCams = [
.8,.68,.45,.65,.74,.68,.78,.62,.58,.8,1.18,1.0,
.92,.67,.59,.52,.64,.98,.74,.62,.54,.63,.84,.85,
1.0,.78,.47,.6,.72,.8,.53,.67,.68,.62,.95,1.13,
1.02,.75,.45,.43,.52,1.12,.62,.8,.66,.66,.85,.8,
1.04,.92,.52,.6,.73,.75,.74,.85,.63,.64,.93,1.41,
1.12,.66,.55,.42,.8,.78,.65,.6,.65,.7,1.3,.88,
.66,.66,.7,.77,.8,1.02,.6,.76,.74,.72,.8,1.1,
.8,.56,.62,.72,.9,1.22,.65,.72,.58,.56,.96,.88,
1.02,.8,.52,.68,.58,.81,.81,.63,.62,.95,1.05,1.1]
const fTotMerra = [
.68,.55,.38,.63,.66,.52,.52,.36,.35,.62,.9,.75,
.68,.52,.56,.47,.65,.88,.42,.35,.4,.55,.8,.65,
.63,.55,.38,.54,.6,.6,.42,.45,.45,.47,.8,.7,
.63,.55,.38,.42,.48,.72,.46,.5,.43,.5,.7,.58,
.58,.57,.41,.5,.58,.47,.46,.46,.43,.5,.88,.76,
.75,.55,.47,.44,.6,.58,.35,.32,.42,.5,.88,.8,
.55,.43,.47,.55,.66,.67,.4,.44,.52,.56,.78,.7,
.6,.5,.45,.6,.82,.82,.36,.38,.4,.5,.82,.72,
.8,.6,.43,.5,.5,.59,.55,.32,.32,.68,.9,.75]
const fTotNaaps = [
.64,.55,.43,.58,.66,.6,.52,.46,.47,.62,.93,.7,
.68,.52,.55,.48,.65,.72,.52,.47,.5,.63,.6,.6,
.74,.55,.38,.5,.6,.62,.48,.48,.5,.51,.8,.82,
.72,.6,.4,.45,.52,.78,.5,.62,.48,.55,.73,.68,
.68,.7,.48,.52,.66,.66,.6,.56,.53,.56,.92,.92,
.95,.65,.5,.48,.72,.66,.45,.44,.55,.6,.72,.78,
.6,.58,.55,.63,.68,.72,.48,.55,.65,.65,.63,.63,
.65,.65,.52,.7,.85,.98,.58,.68,.55,.56,.82,.8,
.86,.68,.5,.56,.55,.65,.68,.48,.47,.74,.92,.8]
const fTotJra = [
.65,.55,.4,.62,.62,.5,.3,.28,.3,.6,.95,.7,
.65,.5,.52,.45,.68,.86,.35,.3,.38,.68,.68,.6,
.73,.5,.38,.45,.57,.55,.29,.29,.35,.38,.78,.8,
.7,.55,.32,.33,.4,.7,.32,.38,.34,.47,.65,.6,
.68,.69,.38,.48,.58,.5,.45,.35,.44,.5,.9,.9,
1.15,.7,.45,.4,.66,.62,.35,.3,.4,.5,.83,.77,
.52,.48,.52,.55,.65,.7,.34,.4,.55,.6,.82,.78,
.68,.55,.42,.58,.8,.88,.33,.36,.42,.5,.8,.75,
.82,.65,.42,.47,.45,.6,.58,.27,.27,.72,.9,.82]
const fTotMrc = [
.7,.6,.42,.6,.66,.58,.56,.44,.42,.7,1.0,.8,
.72,.5,.56,.48,.68,.83,.52,.47,.45,.6,.7,.62,
.74,.58,.41,.52,.63,.62,.42,.46,.48,.49,.85,.88,
.76,.63,.4,.4,.52,.82,.5,.58,.48,.55,.77,.67,
.72,.73,.46,.56,.65,.58,.55,.51,.5,.55,.93,.98,
1.04,.66,.53,.47,.76,.69,.45,.4,.52,.59,.97,.74,
.56,.56,.55,.62,.66,.77,.46,.52,.6,.61,.72,.78,
.78,.62,.49,.66,.8,.98,.47,.52,.5,.52,.85,.82,
.9,.7,.44,.57,.52,.67,.68,.43,.42,.72,.93,.89]
const fCmCams = [
.01,.02,.06,.12,.18,.2,.12,.05,.03,.03,.02,.01,
.01,.02,.05,.1,.15,.36,.12,.04,.02,.02,.02,.01,
.01,.01,.03,.06,.1,.1,.05,.02,.01,.01,.01,.01,
.01,.02,.04,.1,.15,.4,.12,.03,.01,.01,.01,.01,
.01,.02,.06,.12,.16,.18,.14,.05,.03,.02,.01,.01,
.01,.02,.06,.12,.2,.22,.1,.03,.02,.01,.01,.01,
.01,.02,.05,.12,.2,.27,.1,.03,.02,.01,.01,.01,
.01,.02,.04,.1,.22,.36,.1,.03,.02,.01,.01,.01,
.01,.02,.05,.1,.16,.24,.22,.04,.02,.01,.01,.01]
const fCmMerra = [
.08,.12,.22,.32,.25,.14,.07,.05,.04,.06,.05,.04,
.06,.12,.3,.25,.3,.45,.18,.06,.05,.06,.08,.08,
.07,.1,.2,.32,.26,.15,.08,.06,.05,.06,.08,.06,
.06,.1,.15,.25,.3,.47,.15,.08,.06,.16,.1,.06,
.06,.12,.2,.33,.25,.22,.16,.08,.1,.06,.06,.04,
.05,.08,.15,.25,.3,.28,.1,.05,.04,.08,.1,.08,
.06,.1,.2,.3,.37,.36,.12,.06,.05,.05,.06,.05,
.06,.1,.2,.38,.47,.45,.1,.06,.05,.06,.08,.06,
.06,.1,.18,.25,.26,.3,.36,.08,.03,.04,.05,.04]
const fCmNaaps = [
.08,.1,.18,.24,.2,.14,.07,.05,.05,.06,.05,.05,
.06,.1,.22,.22,.28,.38,.15,.06,.06,.08,.1,.1,
.08,.1,.16,.2,.18,.12,.07,.06,.06,.07,.08,.06,
.06,.1,.14,.22,.3,.42,.18,.1,.08,.1,.08,.06,
.06,.1,.16,.22,.24,.2,.14,.08,.06,.05,.06,.05,
.05,.08,.12,.2,.24,.26,.1,.05,.04,.06,.08,.06,
.06,.08,.14,.22,.26,.3,.1,.06,.05,.06,.06,.05,
.06,.08,.14,.26,.34,.38,.1,.06,.06,.07,.08,.07,
.06,.08,.14,.2,.22,.26,.3,.06,.03,.04,.05,.04]
const fCmJra = [
.07,.1,.18,.25,.2,.12,.06,.04,.04,.05,.04,.04,
.05,.1,.25,.22,.3,.5,.14,.05,.05,.06,.08,.08,
.07,.09,.15,.2,.18,.1,.06,.05,.05,.06,.07,.05,
.05,.09,.14,.2,.3,.44,.15,.08,.06,.08,.08,.05,
.05,.1,.15,.2,.22,.22,.14,.07,.06,.05,.05,.04,
.04,.07,.12,.2,.3,.28,.08,.04,.03,.06,.08,.06,
.05,.08,.14,.22,.26,.3,.08,.05,.04,.05,.05,.04,
.05,.08,.14,.28,.36,.4,.1,.05,.05,.06,.07,.06,
.05,.08,.14,.2,.22,.28,.32,.06,.03,.04,.04,.04]
const fCmMrc = [
.07,.1,.18,.25,.2,.13,.06,.05,.04,.05,.05,.04,
.05,.1,.24,.22,.28,.42,.14,.05,.05,.07,.08,.08,
.07,.09,.15,.2,.18,.11,.06,.05,.05,.06,.07,.05,
.05,.09,.14,.21,.28,.42,.15,.08,.06,.09,.08,.05,
.05,.1,.16,.22,.23,.21,.14,.07,.06,.05,.05,.04,
.04,.07,.12,.2,.26,.26,.08,.04,.03,.06,.08,.06,
.05,.08,.14,.22,.26,.3,.09,.05,.04,.05,.05,.04,
.05,.08,.14,.27,.35,.4,.1,.05,.05,.06,.07,.06,
.05,.08,.14,.2,.22,.27,.3,.06,.03,.04,.04,.04]
const fAeroTot = [
_,_,_,_,_,.53,.6,_,_,_,_,_,
.64,.57,.58,.54,.74,.84,_,.38,.47,.64,.86,.88,
1.0,_,_,_,_,_,_,_,_,_,_,_,
.45,.45,.48,.52,.62,.85,.5,_,_,_,_,_,
.88,.99,.4,_,_,_,_,_,.6,.63,_,_,
_,_,.46,.67,.69,.69,_,_,.56,.57,_,_,
_,.5,.56,_,_,_,_,_,_,_,_,_,
_,_,_,.86,.9,.42,.45,.47,.53,_,_,.88,
.96,.66,.43,.65,_,_,.66,.36,_,_,_,_]
const fAeroCm = [
_,_,_,_,_,.2,.15,_,_,_,_,_,
.1,.2,.3,.25,.42,.56,_,.07,.1,.1,.1,.11,
.12,_,_,_,_,_,_,_,_,_,_,_,
.15,.22,.23,.25,.3,.4,.15,_,_,_,_,_,
.15,.13,.1,_,_,_,_,_,.2,.12,_,_,
_,_,.12,.25,.3,.28,_,_,.05,.06,_,_,
_,.1,.13,_,_,_,_,_,_,_,_,_,
_,_,_,.35,.35,.25,.12,.08,.08,.1,_,.07,
.07,.1,.15,.18,_,_,.3,.05,_,_,_,_]

// ---- statistics table (a '*' marks the best score, printed bold) ----
const statNames = ["Total_AOD_bias", "Total_AOD_rmse", "Total_AOD_r2", "CM_AOD_bias", "CM_AOD_rmse",
  "CM_AOD_r2", "FM_AOD_bias", "FM_AOD_rmse", "FM_AOD_r2"]
const aStats = [
  ["0.16", "-0.15", "-0.05", "-0.09", "*0.02"], ["0.21", "0.20", "0.21", "0.21", "*0.15"],
  ["*0.77", "0.75", "0.49", "0.54", "*0.77"], ["-0.04", "-0.08", "*0.00", "-0.02", "-0.03"],
  ["*0.06", "0.09", "0.08", "*0.06", "*0.06"], ["0.54", "*0.60", "0.20", "0.48", "0.50"],
  ["0.20", "-0.07", "*-0.05", "-0.07", "*0.05"], ["0.24", "0.14", "0.17", "0.18", "*0.13"],
  ["0.77", "0.75", "0.64", "0.56", "*0.78"]]
const bStats = [
  ["0.15", "-0.18", "-0.18", "-0.19", "*-0.08"], ["0.19", "0.22", "0.27", "0.29", "*0.17"],
  ["*0.83", "0.81", "0.62", "0.44", "0.80"], ["-0.04", "-0.08", "*-0.02", "*-0.02", "-0.04"],
  ["*0.06", "0.09", "*0.06", "*0.06", "*0.06"], ["0.54", "*0.58", "0.36", "0.56", "0.55"],
  ["0.19", "-0.10", "-0.16", "-0.16", "*-0.04"], ["0.22", "0.15", "0.24", "0.26", "*0.14"],
  ["*0.83", "0.81", "0.72", "0.50", "0.81"]]
const cStats = [
  ["0.07", "*-0.02", "-0.04", "-0.04", "*-0.02"], ["0.11", "*0.10", "0.12", "0.12", "*0.10"],
  ["*0.78", "0.69", "0.61", "0.59", "0.70"], ["-0.04", "-0.03", "*0.00", "*0.00", "-0.01"],
  ["0.05", "0.03", "*0.02", "0.03", "*0.02"], ["0.62", "0.69", "0.67", "0.65", "*0.73"],
  ["0.11", "0.01", "-0.04", "-0.04", "*0.00"], ["0.13", "*0.09", "0.11", "0.11", "*0.09"],
  ["*0.79", "0.68", "0.64", "0.60", "0.72"]]
const dStats = [
  ["0.05", "0.03", "*0.00", "*0.00", "0.03"], ["*0.07", "*0.07", "0.08", "0.08", "*0.07"],
  ["*0.81", "0.68", "0.52", "0.54", "0.72"], ["-0.03", "-0.02", "*0.01", "*0.01", "*-0.01"],
  ["0.04", "0.02", "0.02", "0.03", "*0.01"], ["0.61", "0.73", "0.68", "0.71", "*0.79"],
  ["0.09", "0.05", "*-0.01", "*-0.01", "0.03"], ["0.10", "0.08", "*0.07", "*0.07", "*0.07"],
  ["*0.78", "0.66", "0.53", "0.53", "0.70"]]
const eStats = [
  ["0.07", "-0.11", "*-0.06", "-0.11", "*-0.06"], ["0.13", "0.14", "0.11", "0.14", "*0.10"],
  ["0.65", "0.72", "0.65", "0.66", "*0.74"], ["-0.10", "*-0.03", "-0.04", "*-0.03", "-0.05"],
  ["0.12", "*0.05", "0.08", "0.07", "0.07"], ["0.70", "*0.88", "0.67", "0.70", "0.81"],
  ["0.18", "-0.09", "-0.02", "-0.07", "*-0.01"], ["0.19", "0.12", "0.10", "0.12", "*0.08"],
  ["0.82", "0.86", "0.84", "0.81", "*0.89"]]
const fStats = [
  ["0.13", "-0.08", "*-0.03", "-0.10", "-0.05"], ["0.17", "0.12", "0.11", "0.13", "*0.10"],
  ["0.74", "0.75", "0.69", "0.79", "*0.82"], ["-0.10", "*-0.01", "-0.04", "-0.03", "-0.05"],
  ["0.12", "*0.05", "0.09", "0.07", "0.07"], ["0.58", "*0.86", "0.51", "0.63", "0.73"],
  ["0.23", "-0.07", "0.01", "-0.07", "*0.00"], ["0.24", "0.11", "0.10", "0.11", "*0.08"],
  ["0.82", "0.81", "0.75", "0.82", "*0.87"]]

const years = [2011, 2012, 2013, 2014, 2015, 2016, 2017, 2018, 2019]
const modelNames = ["CAMSRA", "MERRA-2", "NAAPS-RA", "JRAero", "MRC"]
const tableHeader = "CAMSRA MERRA2 NAAPS-RA JRAero MRC"

const panels = [
  { tag: "a)", site: "Beijing", coord: "(116.4E, 40.0N)", mean: [0.62, 0.47, 0.15],
    tot: [aTotCams, aTotMerra, aTotNaaps, aTotJra, aTotMrc], cm: [aCmCams, aCmMerra, aCmNaaps, aCmJra, aCmMrc],
    aeroTot: aAeroTot, aeroCm: aAeroCm, stats: aStats },
  { tag: "b)", site: "XiangHe", coord: "(117.0, 39.8)", mean: [0.74, 0.59, 0.15],
    tot: [bTotCams, bTotMerra, bTotNaaps, bTotJra, bTotMrc], cm: [bCmCams, bCmMerra, bCmNaaps, bCmJra, bCmMrc],
    aeroTot: bAeroTot, aeroCm: bAeroCm, stats: bStats },
  { tag: "c)", site: "Yonsei_University", coord: "(126.9E,  37.6N)", mean: [0.43, 0.34, 0.09],
    tot: [cTotCams, cTotMerra, cTotNaaps, cTotJra, cTotMrc], cm: [cCmCams, cCmMerra, cCmNaaps, cCmJra, cCmMrc],
    aeroTot: cAeroTot, aeroCm: cAeroCm, stats: cStats },
  { tag: "d)", site: "Anmyon", coord: "(126.3E,  36.5N)", mean: [0.35, 0.27, 0.08],
    tot: [dTotCams, dTotMerra, dTotNaaps, dTotJra, dTotMrc], cm: [dCmCams, dCmMerra, dCmNaaps, dCmJra, dCmMrc],
    aeroTot: dAeroTot, aeroCm: dAeroCm, stats: dStats },
  { tag: "e)", site: "Kanpur", coord: "(80.2E, 26.5)", mean: [0.64, 0.44, 0.20],
    tot: [eTotCams, eTotMerra, eTotNaaps, eTotJra, eTotMrc], cm: [eCmCams, eCmMerra, eCmNaaps, eCmJra, eCmMrc],
    aeroTot: eAeroTot, aeroCm: eAeroCm, stats: eStats },
  { tag: "f)", site: "Gandhi_College", coord: "(84.1E, 25.9N)", mean: [0.64, 0.45, 0.19],
    tot: [fTotCams, fTotMerra, fTotNaaps, fTotJra, fTotMrc], cm: [fCmCams, fCmMerra, fCmNaaps, fCmJra, fCmMrc],
    aeroTot: fAeroTot, aeroCm: fAeroCm, stats: fStats }
]

// layout only
const layout = [
  { top: 12, yMax: 1.6, yTop: 1.4, meanX: 173, coordX: 617, tagY: 40, tableY: 25 },
  { top: 237, yMax: 1.6, yTop: 1.4, meanX: 168, coordX: 636, tagY: 258, tableY: 254 },
  { top: 470, yMax: 0.922, yTop: 0.8, meanX: 126, coordX: 540, tagY: 505, tableY: 482 },
  { top: 705, yMax: 0.829, yTop: 0.8, meanX: 196, coordX: 616, tagY: 725, tableY: 710 },
  { top: 940, yMax: 1.2, yTop: 1.0, meanX: 174, coordX: 612, tagY: 970, tableY: 961 },
  { top: 1175, yMax: 1.43, yTop: 1.4, meanX: 152, coordX: 568, tagY: 1216, tableY: 1190 }
]
const plotH = 196
const left = 83, right = 852
const colors = ["#22dd22", "#1414ff", "#f7a12a", "#4a9bd0", "#000000"]
const red = "#ff0f0f"
const valueRight = [1068, 1118, 1167, 1214, 1260]

panels.forEach(p => {
  [...p.tot, ...p.cm, p.aeroTot, p.aeroCm].forEach((s, k) => {
    if (s.length !== 108) throw new Error(`panel ${p.tag} series ${k} has ${s.length} values`)
  })
})

const svg = d3.select("body").append("svg")
  .attr("width", 1263).attr("height", 1489)

svg.append("rect").attr("width", 1263).attr("height", 1489).attr("fill", "#fff")

const x = d3.scaleLinear().domain([0, 107.3]).range([left, right])
const fmt2 = d3.format(".2f")

panels.forEach((p, pi) => {
  const L = layout[pi]
  const bottom = L.top + plotH
  const y = d3.scaleLinear().domain([0, L.yMax]).range([bottom, L.top])
  const g = svg.append("g")

  const clipId = "clip" + pi
  svg.append("clipPath").attr("id", clipId)
    .append("rect").attr("x", left).attr("y", L.top).attr("width", right - left).attr("height", plotH)

  // axes
  const minor = d3.range(0, L.yMax + 1e-6, 0.1)
  const major = d3.range(0, L.yTop + 1e-6, 0.2)
  const xt = d3.range(0, 108, 6)

  const ax = [
    g.append("g").attr("transform", `translate(${left},0)`).call(d3.axisLeft(y).tickValues(minor).tickSize(4).tickFormat("")),
    g.append("g").attr("transform", `translate(${left},0)`).call(d3.axisLeft(y).tickValues(major).tickSize(7).tickPadding(3).tickFormat(d3.format(".1f"))),
    g.append("g").attr("transform", `translate(${right},0)`).call(d3.axisRight(y).tickValues(minor).tickSize(4).tickFormat("")),
    g.append("g").attr("transform", `translate(${right},0)`).call(d3.axisRight(y).tickValues(major).tickSize(7).tickFormat("")),
    g.append("g").attr("transform", `translate(0,${L.top})`).call(d3.axisTop(x).tickValues(xt).tickSize(5).tickFormat("")),
    g.append("g").attr("transform", `translate(0,${bottom})`).call(d3.axisBottom(x).tickValues(xt).tickSize(5).tickFormat(""))
  ]
  ax.forEach(a => {
    a.select(".domain").remove()
    a.selectAll("line").attr("stroke", "#222")
    a.selectAll("text").attr("font-size", 17.5).attr("font-family", "Open Sans").attr("fill", "#111")
  })

  g.selectAll("text.year").data(years).join("text")
    .attr("class", "year")
    .attr("x", (d, i) => x(i * 12)).attr("y", bottom + 25)
    .attr("text-anchor", "middle").attr("font-size", 18)
    .text(d => d)

  g.append("text")
    .attr("transform", `translate(26,${(L.top + bottom) / 2}) rotate(-90)`)
    .attr("text-anchor", "middle").attr("font-size", 17)
    .text("AOD")

  // lines
  const plot = g.append("g").attr("clip-path", `url(#${clipId})`)
  const line = d3.line().defined(d => d != null).x((d, i) => x(i)).y(d => y(d))

  p.cm.forEach((s, k) => {
    plot.append("path").attr("d", line(s)).attr("fill", "none")
      .attr("stroke", colors[k]).attr("stroke-width", 1.5).attr("stroke-dasharray", "1.3,2.2")
  })
  p.tot.forEach((s, k) => {
    plot.append("path").attr("d", line(s)).attr("fill", "none")
      .attr("stroke", colors[k]).attr("stroke-width", 1.4).attr("stroke-linejoin", "round")
  })
  plot.append("path").attr("d", line(p.aeroCm)).attr("fill", "none")
    .attr("stroke", red).attr("stroke-width", 2.6).attr("stroke-dasharray", "9,5")
  plot.append("path").attr("d", line(p.aeroTot)).attr("fill", "none")
    .attr("stroke", red).attr("stroke-width", 2.6).attr("stroke-linejoin", "round")

  g.append("rect").attr("x", left).attr("y", L.top).attr("width", right - left).attr("height", plotH)
    .attr("fill", "none").attr("stroke", "#111").attr("stroke-width", 1.2)

  // panel texts
  g.append("text").attr("x", 88).attr("y", L.tagY).attr("font-size", 20).attr("font-weight", "bold").text(p.tag)
  g.append("text").attr("x", L.meanX).attr("y", L.top + 22).attr("font-size", 18)
    .text(`mean Total AOD = ${fmt2(p.mean[0])}, FM = ${fmt2(p.mean[1])}, CM = ${fmt2(p.mean[2])}`)
  g.append("text").attr("x", L.coordX).attr("y", L.top + 22).attr("font-size", 15.5)
    .style("white-space", "pre").text(p.coord)
  g.append("text").attr("x", 831).attr("y", L.top + 22).attr("font-size", 17.5)
    .attr("text-anchor", "end").text(p.site)

  // statistics
  p.stats.forEach((row, r) => {
    const ty = L.tableY + r * 22.9 + 6
    svg.append("text").attr("x", 1022).attr("y", ty).attr("text-anchor", "end")
      .attr("font-size", 17).text(statNames[r] + "=")
    row.forEach((v, c) => {
      const best = v.startsWith("*")
      svg.append("text").attr("x", valueRight[c]).attr("y", ty).attr("text-anchor", "end")
        .attr("font-size", 17).attr("font-weight", best ? "bold" : null)
        .text(best ? v.slice(1) : v)
    })
  })
})

svg.append("text").attr("x", 1260).attr("y", 9).attr("text-anchor", "end")
  .attr("font-size", 18).attr("font-weight", "bold").text(tableHeader)

// legend
const legendPos = [
  { x1: 150, x2: 210, tx: 215, y: 1428 },
  { x1: 150, x2: 210, tx: 215, y: 1453 },
  { x1: 150, x2: 210, tx: 215, y: 1477 },
  { x1: 357, x2: 417, tx: 433, y: 1437 },
  { x1: 357, x2: 417, tx: 433, y: 1463 }
]
modelNames.forEach((name, k) => {
  const L = legendPos[k]
  svg.append("line").attr("x1", L.x1).attr("x2", L.x2).attr("y1", L.y).attr("y2", L.y)
    .attr("stroke", colors[k]).attr("stroke-width", 2.6)
  svg.append("text").attr("x", L.tx).attr("y", L.y + 6).attr("font-size", 18).text(name)
})
svg.append("line").attr("x1", 582).attr("x2", 635).attr("y1", 1437).attr("y2", 1437)
  .attr("stroke", red).attr("stroke-width", 3)
svg.append("text").attr("x", 649).attr("y", 1443).attr("font-size", 18).text("AERONET total AOD")
svg.append("line").attr("x1", 582).attr("x2", 635).attr("y1", 1461).attr("y2", 1461)
  .attr("stroke", red).attr("stroke-width", 3).attr("stroke-dasharray", "12,6")
svg.append("text").attr("x", 649).attr("y", 1467).attr("font-size", 18).text("AERONET CM AOD")
</script>
</body>
</html>
